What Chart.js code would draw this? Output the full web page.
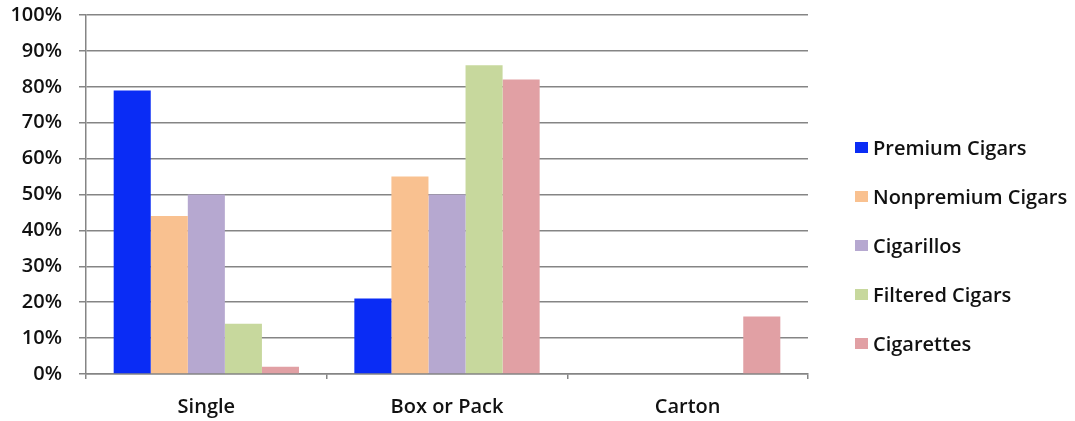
<!DOCTYPE html>
<html lang="en">
<head>
    <meta charset="UTF-8">
    <title>Purchase Unit by Product</title>
    <style>
        html, body { margin: 0; padding: 0; background: #fff; }
        .wrap { position: relative; width: 1075px; height: 421px; }
        #legend {
            position: absolute; left: 855px; top: 123px;
            margin: 0; padding: 0; list-style: none;
            font: 600 20px "Open Sans", sans-serif; color: #111;
        }
        #legend li { height: 49px; line-height: 49px; white-space: nowrap; }
        #legend span.box {
            display: inline-block; width: 13px; height: 11px;
            margin-right: 5px; vertical-align: middle; position: relative; top: -2px;
        }
    </style>
</head>
<body>
    <div class="wrap">
        <canvas id="unitChart" width="1075" height="421"></canvas>
        <ul id="legend"></ul>
    </div>

    <script src="https://cdn.jsdelivr.net/npm/chart.js"></script>
    <script>
        // Categories and series (percent of users)
        const units = ['Single', 'Box or Pack', 'Carton'];
        const premiumCigars = [79, 21, 0];
        const nonpremiumCigars = [44, 55, 0];
        const cigarillos = [50, 50, 0];
        const filteredCigars = [14, 86, 0];
        const cigarettes = [2, 82, 16];

        const seriesNames = ['Premium Cigars', 'Nonpremium Cigars', 'Cigarillos', 'Filtered Cigars', 'Cigarettes'];
        const seriesColors = ['#0a2cf5', '#f9c190', '#b6a8d0', '#c7d89d', '#e1a0a4'];
        const seriesValues = [premiumCigars, nonpremiumCigars, cigarillos, filteredCigars, cigarettes];

        const textFont = { family: '"Open Sans", sans-serif', size: 20, weight: 600 };
        const gridGray = '#858585';

        const chart = new Chart(document.getElementById('unitChart').getContext('2d'), {
            type: 'bar',
            data: {
                labels: units,
                datasets: seriesNames.map((name, i) => ({
                    label: name,
                    data: seriesValues[i],
                    backgroundColor: seriesColors[i],
                    borderWidth: 0,
                    categoryPercentage: 0.77,
                    barPercentage: 1.0
                }))
            },
            options: {
                responsive: false,
                animation: false,
                layout: { padding: { left: 11, right: 267, top: 0, bottom: 2 } },
                plugins: {
                    legend: { display: false },
                    tooltip: { enabled: false }
                },
                scales: {
                    x: {
                        grid: { drawOnChartArea: false, tickLength: 5, color: gridGray, lineWidth: 1.5 },
                        border: { color: gridGray, width: 1.5 },
                        ticks: { color: '#111', font: textFont, padding: 16 },
                        // fixed axis height so the plot bottom sits where we want it
                        afterFit: axis => { axis.height = 45; }
                    },
                    y: {
                        min: 0,
                        max: 100,
                        ticks: {
                            stepSize: 10,
                            color: '#111',
                            font: textFont,
                            padding: 17,
                            callback: v => v + '%'
                        },
                        grid: { color: gridGray, lineWidth: 1.5, tickLength: 7 },
                        border: { color: gridGray, width: 1.5 },
                        afterFit: axis => {
                            axis.width = 75;
                            axis.paddingTop = 15;
                            axis.paddingBottom = 0;
                        }
                    }
                }
            }
        });

        // Legend built from the datasets
        const legend = document.getElementById('legend');
        chart.data.datasets.forEach(ds => {
            const li = document.createElement('li');
            const box = document.createElement('span');
            box.className = 'box';
            box.style.background = ds.backgroundColor;
            li.appendChild(box);
            li.appendChild(document.createTextNode(ds.label));
            legend.appendChild(li);
        });
    </script>
</body>
</html>
